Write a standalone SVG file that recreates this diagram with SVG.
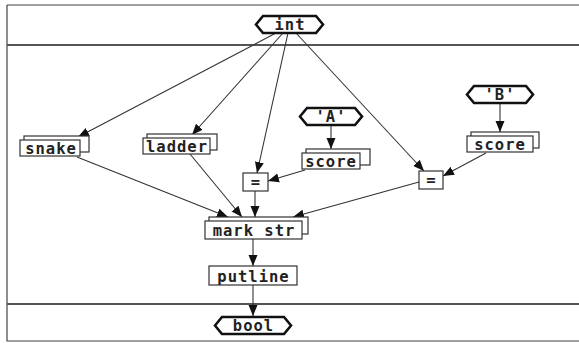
<svg xmlns="http://www.w3.org/2000/svg" width="579" height="343" viewBox="0 0 579 343">
<style>
.bg{fill:#fff}
.frame{fill:none;stroke:#444;stroke-width:1.2}
.sep{fill:none;stroke:#555;stroke-width:2}
.box{fill:#fff;stroke:#333;stroke-width:1.2}
.hex{fill:#fff;stroke:#111;stroke-width:2.6;stroke-linejoin:miter}
.t{font-family:"DejaVu Sans Mono","Liberation Mono",monospace;font-weight:bold;font-size:15.5px;letter-spacing:1px;fill:#222;text-anchor:middle}
.e{fill:none;stroke:#333;stroke-width:1.1;marker-end:url(#ah)}
</style>
<defs>
<marker id="ah" markerUnits="userSpaceOnUse" markerWidth="12" markerHeight="12" viewBox="0 0 12 12" refX="11" refY="6" orient="auto">
<path d="M0,1.5 L11,6 L0,10.5 Z" fill="#111"/>
</marker>
</defs>
<rect class="bg" x="0" y="0" width="579" height="343"/>
<g id="frame">
<path class="frame" d="M7,5 H579 M7,5 V341 H579"/>
<line class="sep" x1="7" y1="45" x2="579" y2="45"/>
<line class="sep" x1="7" y1="304" x2="579" y2="304"/>
</g>
<g id="connectors">
<line class="e" x1="276" y1="33" x2="78" y2="137"/>
<line class="e" x1="283" y1="33" x2="192" y2="135"/>
<line class="e" x1="288" y1="33" x2="257" y2="173"/>
<line class="e" x1="296" y1="33" x2="424" y2="171"/>
<line class="e" x1="331" y1="125" x2="331" y2="149"/>
<line class="e" x1="305" y1="170" x2="268" y2="181"/>
<line class="e" x1="500" y1="104" x2="500" y2="132"/>
<line class="e" x1="486" y1="153" x2="443" y2="176"/>
<line class="e" x1="77" y1="157" x2="228" y2="217"/>
<line class="e" x1="190" y1="154" x2="242" y2="217"/>
<line class="e" x1="255" y1="191" x2="255" y2="217"/>
<line class="e" x1="419" y1="182" x2="293" y2="217"/>
<line class="e" x1="253" y1="239" x2="253" y2="266"/>
<line class="e" x1="253" y1="285" x2="253" y2="316"/>
</g>
<g id="int">
<polygon class="hex" points="256,24.5 263,16 316,16 323,24.5 316,33 263,33"/>
<text class="t" x="290" y="30">int</text>
</g>
<g id="snake">
<rect class="box" x="24" y="136" width="65" height="16"/>
<rect class="box" x="20" y="140" width="60" height="16"/>
<text class="t" x="51" y="153.5">snake</text>
</g>
<g id="ladder">
<rect class="box" x="147" y="134" width="70" height="16"/>
<rect class="box" x="143" y="138" width="67" height="16"/>
<text class="t" x="177" y="151.5">ladder</text>
</g>
<g id="litA">
<polygon class="hex" points="300,116.5 307,108 355,108 362,116.5 355,125 307,125"/>
<text class="t" x="331" y="122">'A'</text>
</g>
<g id="scoreA">
<rect class="box" x="306" y="149" width="64" height="16"/>
<rect class="box" x="302" y="153" width="58" height="16"/>
<text class="t" x="331" y="166.5">score</text>
</g>
<g id="litB">
<polygon class="hex" points="467,94.5 474,86 526,86 533,94.5 526,103 474,103"/>
<text class="t" x="500" y="100">'B'</text>
</g>
<g id="scoreB">
<rect class="box" x="471" y="132" width="68" height="16"/>
<rect class="box" x="467" y="136" width="66" height="16"/>
<text class="t" x="500" y="149.5">score</text>
</g>
<g id="eq1">
<rect class="box" x="243" y="173" width="25" height="18"/>
<text class="t" x="256" y="187">=</text>
</g>
<g id="eq2">
<rect class="box" x="419" y="171" width="24" height="18"/>
<text class="t" x="431.5" y="185">=</text>
</g>
<g id="markstr">
<rect class="box" x="209" y="217" width="99" height="17"/>
<rect class="box" x="205" y="221" width="97" height="18"/>
<text class="t" x="254" y="235.5">mark str</text>
</g>
<g id="putline">
<rect class="box" x="209" y="266" width="88" height="19"/>
<text class="t" x="253.5" y="281.5">putline</text>
</g>
<g id="bool">
<polygon class="hex" points="215,325.5 222,317 284,317 291,325.5 284,334 222,334"/>
<text class="t" x="253.5" y="331">bool</text>
</g>
</svg>
